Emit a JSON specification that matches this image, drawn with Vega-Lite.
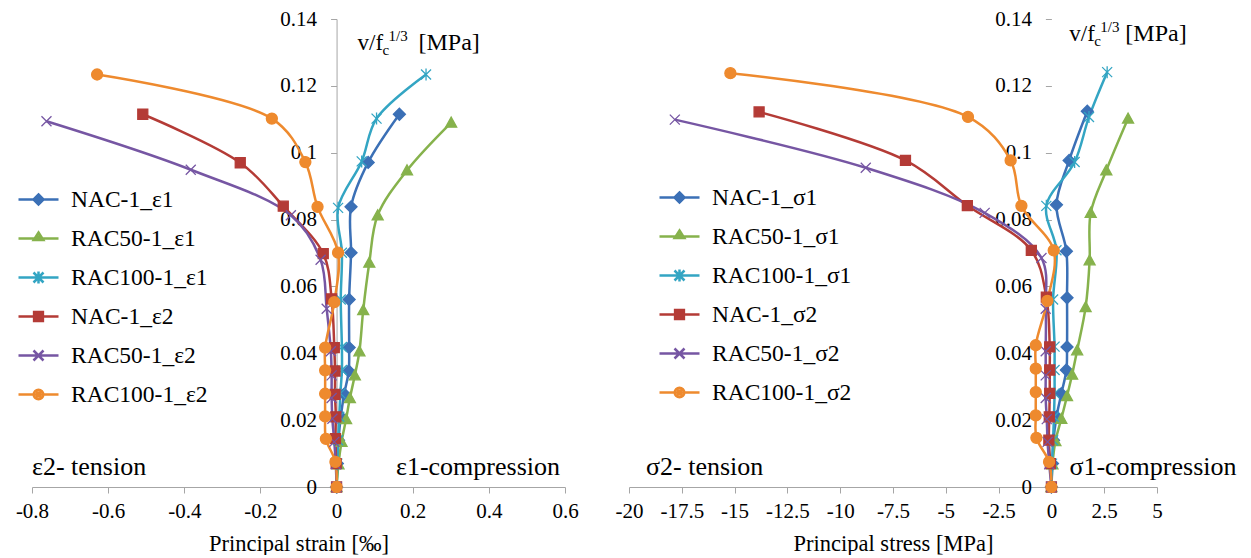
{
  "$schema": "https://vega.github.io/schema/vega-lite/v6.json",
  "background": "white",
  "padding": {"left": 15, "top": 8, "right": 5, "bottom": 0},
  "config": {
    "font": "Liberation Serif",
    "view": {"stroke": null},
    "axis": {
      "labelFont": "Liberation Serif", "titleFont": "Liberation Serif",
      "labelColor": "#000", "titleColor": "#000",
      "labelFontSize": 21, "titleFontSize": 22.5, "titleFontWeight": "normal",
      "domainColor": "#a6a6a6", "tickColor": "#a6a6a6", "grid": false,
      "tickSize": 6
    },
    "legend": {"labelFont": "Liberation Serif", "labelFontSize": 23.5, "labelColor": "#000"}
  },
  "datasets": {
    "strain": [
      {"s": "NAC-1_ε1", "i": 0, "x": 0, "y": 0},
      {"s": "NAC-1_ε1", "i": 1, "x": 0.002, "y": 0.007},
      {"s": "NAC-1_ε1", "i": 2, "x": 0.005, "y": 0.014},
      {"s": "NAC-1_ε1", "i": 3, "x": 0.011, "y": 0.021},
      {"s": "NAC-1_ε1", "i": 4, "x": 0.02, "y": 0.0278},
      {"s": "NAC-1_ε1", "i": 5, "x": 0.032, "y": 0.0347},
      {"s": "NAC-1_ε1", "i": 6, "x": 0.033, "y": 0.0417},
      {"s": "NAC-1_ε1", "i": 7, "x": 0.033, "y": 0.0561},
      {"s": "NAC-1_ε1", "i": 8, "x": 0.038, "y": 0.0701},
      {"s": "NAC-1_ε1", "i": 9, "x": 0.038, "y": 0.0838},
      {"s": "NAC-1_ε1", "i": 10, "x": 0.083, "y": 0.0971},
      {"s": "NAC-1_ε1", "i": 11, "x": 0.165, "y": 0.1115},
      {"s": "RAC50-1_ε1", "i": 0, "x": 0, "y": 0},
      {"s": "RAC50-1_ε1", "i": 1, "x": 0.005, "y": 0.0068},
      {"s": "RAC50-1_ε1", "i": 2, "x": 0.013, "y": 0.0135},
      {"s": "RAC50-1_ε1", "i": 3, "x": 0.025, "y": 0.0203},
      {"s": "RAC50-1_ε1", "i": 4, "x": 0.035, "y": 0.0266},
      {"s": "RAC50-1_ε1", "i": 5, "x": 0.048, "y": 0.0334},
      {"s": "RAC50-1_ε1", "i": 6, "x": 0.06, "y": 0.0406},
      {"s": "RAC50-1_ε1", "i": 7, "x": 0.07, "y": 0.0529},
      {"s": "RAC50-1_ε1", "i": 8, "x": 0.086, "y": 0.0671},
      {"s": "RAC50-1_ε1", "i": 9, "x": 0.108, "y": 0.0813},
      {"s": "RAC50-1_ε1", "i": 10, "x": 0.185, "y": 0.0947},
      {"s": "RAC50-1_ε1", "i": 11, "x": 0.301, "y": 0.109},
      {"s": "RAC100-1_ε1", "i": 0, "x": 0, "y": 0},
      {"s": "RAC100-1_ε1", "i": 1, "x": 0.002, "y": 0.007},
      {"s": "RAC100-1_ε1", "i": 2, "x": 0.004, "y": 0.014},
      {"s": "RAC100-1_ε1", "i": 3, "x": 0.007, "y": 0.021},
      {"s": "RAC100-1_ε1", "i": 4, "x": 0.01, "y": 0.028},
      {"s": "RAC100-1_ε1", "i": 5, "x": 0.014, "y": 0.035},
      {"s": "RAC100-1_ε1", "i": 6, "x": 0.014, "y": 0.0419},
      {"s": "RAC100-1_ε1", "i": 7, "x": 0.011, "y": 0.0561},
      {"s": "RAC100-1_ε1", "i": 8, "x": 0.014, "y": 0.0701},
      {"s": "RAC100-1_ε1", "i": 9, "x": 0.004, "y": 0.0835},
      {"s": "RAC100-1_ε1", "i": 10, "x": 0.066, "y": 0.0974},
      {"s": "RAC100-1_ε1", "i": 11, "x": 0.105, "y": 0.1102},
      {"s": "RAC100-1_ε1", "i": 12, "x": 0.235, "y": 0.1234},
      {"s": "NAC-1_ε2", "i": 0, "x": 0, "y": 0},
      {"s": "NAC-1_ε2", "i": 1, "x": -0.001, "y": 0.007},
      {"s": "NAC-1_ε2", "i": 2, "x": -0.003, "y": 0.0145},
      {"s": "NAC-1_ε2", "i": 3, "x": -0.002, "y": 0.021},
      {"s": "NAC-1_ε2", "i": 4, "x": -0.004, "y": 0.0277},
      {"s": "NAC-1_ε2", "i": 5, "x": -0.004, "y": 0.0347},
      {"s": "NAC-1_ε2", "i": 6, "x": -0.006, "y": 0.0417},
      {"s": "NAC-1_ε2", "i": 7, "x": -0.013, "y": 0.0563},
      {"s": "NAC-1_ε2", "i": 8, "x": -0.035, "y": 0.0698},
      {"s": "NAC-1_ε2", "i": 9, "x": -0.14, "y": 0.084},
      {"s": "NAC-1_ε2", "i": 10, "x": -0.253, "y": 0.097},
      {"s": "NAC-1_ε2", "i": 11, "x": -0.509, "y": 0.1115},
      {"s": "RAC50-1_ε2", "i": 0, "x": 0, "y": 0},
      {"s": "RAC50-1_ε2", "i": 1, "x": -0.002, "y": 0.0068},
      {"s": "RAC50-1_ε2", "i": 2, "x": -0.006, "y": 0.0135},
      {"s": "RAC50-1_ε2", "i": 3, "x": -0.011, "y": 0.0204},
      {"s": "RAC50-1_ε2", "i": 4, "x": -0.013, "y": 0.0266},
      {"s": "RAC50-1_ε2", "i": 5, "x": -0.013, "y": 0.0334},
      {"s": "RAC50-1_ε2", "i": 6, "x": -0.015, "y": 0.0406},
      {"s": "RAC50-1_ε2", "i": 7, "x": -0.026, "y": 0.0533},
      {"s": "RAC50-1_ε2", "i": 8, "x": -0.042, "y": 0.068},
      {"s": "RAC50-1_ε2", "i": 9, "x": -0.12, "y": 0.0813},
      {"s": "RAC50-1_ε2", "i": 10, "x": -0.383, "y": 0.0949},
      {"s": "RAC50-1_ε2", "i": 11, "x": -0.762, "y": 0.1094},
      {"s": "RAC100-1_ε2", "i": 0, "x": 0, "y": 0},
      {"s": "RAC100-1_ε2", "i": 1, "x": -0.003, "y": 0.0075},
      {"s": "RAC100-1_ε2", "i": 2, "x": -0.028, "y": 0.0144},
      {"s": "RAC100-1_ε2", "i": 3, "x": -0.03, "y": 0.0211},
      {"s": "RAC100-1_ε2", "i": 4, "x": -0.03, "y": 0.0279},
      {"s": "RAC100-1_ε2", "i": 5, "x": -0.03, "y": 0.0349},
      {"s": "RAC100-1_ε2", "i": 6, "x": -0.03, "y": 0.0417},
      {"s": "RAC100-1_ε2", "i": 7, "x": -0.006, "y": 0.0553},
      {"s": "RAC100-1_ε2", "i": 8, "x": 0.004, "y": 0.0701},
      {"s": "RAC100-1_ε2", "i": 9, "x": -0.05, "y": 0.0838},
      {"s": "RAC100-1_ε2", "i": 10, "x": -0.082, "y": 0.0972},
      {"s": "RAC100-1_ε2", "i": 11, "x": -0.17, "y": 0.1102},
      {"s": "RAC100-1_ε2", "i": 12, "x": -0.629, "y": 0.1234}
    ],
    "stress": [
      {"s": "NAC-1_σ1", "i": 0, "x": 0, "y": 0},
      {"s": "NAC-1_σ1", "i": 1, "x": 0.05, "y": 0.007},
      {"s": "NAC-1_σ1", "i": 2, "x": 0.1, "y": 0.014},
      {"s": "NAC-1_σ1", "i": 3, "x": 0.24, "y": 0.021},
      {"s": "NAC-1_σ1", "i": 4, "x": 0.47, "y": 0.0279},
      {"s": "NAC-1_σ1", "i": 5, "x": 0.71, "y": 0.035},
      {"s": "NAC-1_σ1", "i": 6, "x": 0.74, "y": 0.0419},
      {"s": "NAC-1_σ1", "i": 7, "x": 0.74, "y": 0.0566},
      {"s": "NAC-1_σ1", "i": 8, "x": 0.71, "y": 0.0705},
      {"s": "NAC-1_σ1", "i": 9, "x": 0.24, "y": 0.0844},
      {"s": "NAC-1_σ1", "i": 10, "x": 0.84, "y": 0.0977},
      {"s": "NAC-1_σ1", "i": 11, "x": 1.7, "y": 0.1124},
      {"s": "RAC50-1_σ1", "i": 0, "x": 0, "y": 0},
      {"s": "RAC50-1_σ1", "i": 1, "x": 0.05, "y": 0.0068},
      {"s": "RAC50-1_σ1", "i": 2, "x": 0.19, "y": 0.0137},
      {"s": "RAC50-1_σ1", "i": 3, "x": 0.47, "y": 0.0204},
      {"s": "RAC50-1_σ1", "i": 4, "x": 0.74, "y": 0.0272},
      {"s": "RAC50-1_σ1", "i": 5, "x": 0.98, "y": 0.0336},
      {"s": "RAC50-1_σ1", "i": 6, "x": 1.22, "y": 0.0409},
      {"s": "RAC50-1_σ1", "i": 7, "x": 1.62, "y": 0.0538},
      {"s": "RAC50-1_σ1", "i": 8, "x": 1.81, "y": 0.0678},
      {"s": "RAC50-1_σ1", "i": 9, "x": 1.86, "y": 0.082},
      {"s": "RAC50-1_σ1", "i": 10, "x": 2.6, "y": 0.0947},
      {"s": "RAC50-1_σ1", "i": 11, "x": 3.63, "y": 0.1102},
      {"s": "RAC100-1_σ1", "i": 0, "x": 0, "y": 0},
      {"s": "RAC100-1_σ1", "i": 1, "x": 0.03, "y": 0.007},
      {"s": "RAC100-1_σ1", "i": 2, "x": 0.08, "y": 0.014},
      {"s": "RAC100-1_σ1", "i": 3, "x": 0.12, "y": 0.021},
      {"s": "RAC100-1_σ1", "i": 4, "x": 0.15, "y": 0.028},
      {"s": "RAC100-1_σ1", "i": 5, "x": 0.15, "y": 0.035},
      {"s": "RAC100-1_σ1", "i": 6, "x": 0.15, "y": 0.042},
      {"s": "RAC100-1_σ1", "i": 7, "x": 0.08, "y": 0.0561},
      {"s": "RAC100-1_σ1", "i": 8, "x": 0.24, "y": 0.0708},
      {"s": "RAC100-1_σ1", "i": 9, "x": -0.24, "y": 0.0841},
      {"s": "RAC100-1_σ1", "i": 10, "x": 1.1, "y": 0.0972},
      {"s": "RAC100-1_σ1", "i": 11, "x": 1.78, "y": 0.1107},
      {"s": "RAC100-1_σ1", "i": 12, "x": 2.64, "y": 0.1241},
      {"s": "NAC-1_σ2", "i": 0, "x": 0, "y": 0},
      {"s": "NAC-1_σ2", "i": 1, "x": -0.05, "y": 0.007},
      {"s": "NAC-1_σ2", "i": 2, "x": -0.12, "y": 0.014},
      {"s": "NAC-1_σ2", "i": 3, "x": -0.1, "y": 0.021},
      {"s": "NAC-1_σ2", "i": 4, "x": -0.08, "y": 0.028},
      {"s": "NAC-1_σ2", "i": 5, "x": -0.08, "y": 0.035},
      {"s": "NAC-1_σ2", "i": 6, "x": -0.08, "y": 0.0419},
      {"s": "NAC-1_σ2", "i": 7, "x": -0.24, "y": 0.0568},
      {"s": "NAC-1_σ2", "i": 8, "x": -0.95, "y": 0.0708},
      {"s": "NAC-1_σ2", "i": 9, "x": -3.98, "y": 0.0842},
      {"s": "NAC-1_σ2", "i": 10, "x": -6.91, "y": 0.0977},
      {"s": "NAC-1_σ2", "i": 11, "x": -13.84, "y": 0.1122},
      {"s": "RAC50-1_σ2", "i": 0, "x": 0, "y": 0},
      {"s": "RAC50-1_σ2", "i": 1, "x": -0.1, "y": 0.0068},
      {"s": "RAC50-1_σ2", "i": 2, "x": -0.18, "y": 0.0135},
      {"s": "RAC50-1_σ2", "i": 3, "x": -0.22, "y": 0.0203},
      {"s": "RAC50-1_σ2", "i": 4, "x": -0.27, "y": 0.0266},
      {"s": "RAC50-1_σ2", "i": 5, "x": -0.27, "y": 0.0334},
      {"s": "RAC50-1_σ2", "i": 6, "x": -0.27, "y": 0.0406},
      {"s": "RAC50-1_σ2", "i": 7, "x": -0.27, "y": 0.0533},
      {"s": "RAC50-1_σ2", "i": 8, "x": -0.47, "y": 0.0685},
      {"s": "RAC50-1_σ2", "i": 9, "x": -3.16, "y": 0.082},
      {"s": "RAC50-1_σ2", "i": 10, "x": -8.79, "y": 0.0955},
      {"s": "RAC50-1_σ2", "i": 11, "x": -17.83, "y": 0.1099},
      {"s": "RAC100-1_σ2", "i": 0, "x": 0, "y": 0},
      {"s": "RAC100-1_σ2", "i": 1, "x": -0.11, "y": 0.0075},
      {"s": "RAC100-1_σ2", "i": 2, "x": -0.71, "y": 0.0147},
      {"s": "RAC100-1_σ2", "i": 3, "x": -0.74, "y": 0.0214},
      {"s": "RAC100-1_σ2", "i": 4, "x": -0.74, "y": 0.0284},
      {"s": "RAC100-1_σ2", "i": 5, "x": -0.74, "y": 0.0354},
      {"s": "RAC100-1_σ2", "i": 6, "x": -0.74, "y": 0.0424},
      {"s": "RAC100-1_σ2", "i": 7, "x": -0.19, "y": 0.0557},
      {"s": "RAC100-1_σ2", "i": 8, "x": 0.11, "y": 0.0708},
      {"s": "RAC100-1_σ2", "i": 9, "x": -1.42, "y": 0.0841},
      {"s": "RAC100-1_σ2", "i": 10, "x": -1.93, "y": 0.0977},
      {"s": "RAC100-1_σ2", "i": 11, "x": -3.95, "y": 0.1107},
      {"s": "RAC100-1_σ2", "i": 12, "x": -15.2, "y": 0.1238}
    ]
  },
  "spacing": 36,
  "resolve": {"scale": {"color": "independent", "shape": "independent", "stroke": "independent"}, "legend": {"color": "independent"}},
  "hconcat": [
    {
      "width": 533, "height": 468,
      "data": {"name": "strain"},
      "encoding": {
        "x": {"field": "x", "type": "quantitative", "scale": {"domain": [-0.8, 0.6], "nice": false, "zero": false},
          "axis": {"title": "Principal strain [‰]", "values": [-0.8, -0.6, -0.4, -0.2, 0, 0.2, 0.4, 0.6], "labelExpr": "datum.value == 0 ? '0' : (datum.value < 0 ? '-' : '') + format(abs(datum.value), '~g')", "labelPadding": 7, "titlePadding": 11, "labelFlush": false}},
        "y": {"field": "y", "type": "quantitative", "scale": {"domain": [0, 0.14], "nice": false},
          "axis": {"title": null, "values": [0, 0.02, 0.04, 0.06, 0.08, 0.1, 0.12, 0.14], "format": "~g", "offset": -304.57, "labelPadding": 14, "labelFlush": false}}
      },
      "layer": [
        {
          "mark": {"type": "line", "interpolate": "catmull-rom", "strokeWidth": 2.5},
          "encoding": {
            "stroke": {"field": "s", "type": "nominal", "legend": null,
              "scale": {"domain": ["RAC100-1_ε2", "RAC50-1_ε2", "NAC-1_ε2", "RAC100-1_ε1", "RAC50-1_ε1", "NAC-1_ε1"], "range": ["#EE8A2E", "#7656A3", "#B43B36", "#33A5C3", "#86B24C", "#3B70B6"]}},
            "order": {"field": "i", "type": "quantitative"}
          }
        },
        {"transform": [{"filter": "datum.s == 'NAC-1_ε1'"}], "mark": {"type": "point", "filled": true, "opacity": 1, "size": 100, "strokeWidth": 1.3, "shape": "M0,-1.2L1.2,0L0,1.2L-1.2,0Z", "fill": "#3B70B6", "stroke": "#3B70B6"}},
        {"transform": [{"filter": "datum.s == 'RAC50-1_ε1'"}], "mark": {"type": "point", "filled": true, "opacity": 1, "size": 100, "strokeWidth": 1.3, "shape": "M0,-1.1L1.1,0.9L-1.1,0.9Z", "fill": "#86B24C", "stroke": "#86B24C"}},
        {"transform": [{"filter": "datum.s == 'RAC100-1_ε1'"}], "mark": {"type": "point", "filled": true, "opacity": 1, "size": 100, "strokeWidth": 1.3, "shape": "M-1,-1L1,1M-1,1L1,-1M0,-1.2V1.2", "fill": "#33A5C3", "stroke": "#33A5C3"}},
        {"transform": [{"filter": "datum.s == 'NAC-1_ε2'"}], "mark": {"type": "point", "filled": true, "opacity": 1, "size": 100, "strokeWidth": 1.3, "shape": "M-1,-1H1V1H-1Z", "fill": "#B43B36", "stroke": "#B43B36"}},
        {"transform": [{"filter": "datum.s == 'RAC50-1_ε2'"}], "mark": {"type": "point", "filled": true, "opacity": 1, "size": 100, "strokeWidth": 1.3, "shape": "M-1,-1L1,1M-1,1L1,-1", "fill": "#7656A3", "stroke": "#7656A3"}},
        {"transform": [{"filter": "datum.s == 'RAC100-1_ε2'"}], "mark": {"type": "point", "filled": true, "opacity": 1, "size": 100, "strokeWidth": 1.3, "shape": "M1.1,0A1.1,1.1 0 1,1 -1.1,0A1.1,1.1 0 1,1 1.1,0Z", "fill": "#EE8A2E", "stroke": "#EE8A2E"}},
        {
          "mark": {"type": "point", "filled": false, "size": 0, "strokeWidth": 2.5},
          "encoding": {
            "color": {"field": "s", "type": "nominal",
              "scale": {"domain": ["NAC-1_ε1", "RAC50-1_ε1", "RAC100-1_ε1", "NAC-1_ε2", "RAC50-1_ε2", "RAC100-1_ε2"], "range": ["#3B70B6", "#86B24C", "#33A5C3", "#B43B36", "#7656A3", "#EE8A2E"]},
              "legend": {"title": null, "orient": "none", "legendX": -15, "legendY": 159, "rowPadding": 6, "labelOffset": 11, "symbolSize": 1600, "symbolStrokeWidth": 2.5, "symbolOpacity": 1}},
            "shape": {"field": "s", "type": "nominal", "legend": null,
              "scale": {"domain": ["NAC-1_ε1", "RAC50-1_ε1", "RAC100-1_ε1", "NAC-1_ε2", "RAC50-1_ε2", "RAC100-1_ε2"],
                "range": ["M-1,0H1M0,-0.25L0.25,0L0,0.25L-0.25,0ZM-0.17,0H0.17M-0.1,-0.08H0.1M-0.1,0.08H0.1", "M-1,0H1M0,-0.3L0.24,0.08L-0.24,0.08ZM-0.14,0H0.14M-0.08,-0.1H0.08", "M-1,0H1M-0.25,-0.25L0.25,0.25M-0.25,0.25L0.25,-0.25M0,-0.3V0.3", "M-1,0H1M-0.22,-0.22H0.22V0.22H-0.22ZM-0.22,-0.1H0.22M-0.22,0.1H0.22", "M-1,0H1M-0.25,-0.25L0.25,0.25M-0.25,0.25L0.25,-0.25", "M-1,0H1M0.24,0A0.24,0.24 0 1,1 -0.24,0A0.24,0.24 0 1,1 0.24,0ZM-0.15,-0.1H0.15M-0.15,0.1H0.15M0,-0.15V0.15"]}}
          }
        },
        {"transform": [{"filter": "datum.i == 0 && datum.s == 'NAC-1_ε1'"}], "mark": {"type": "text", "fontSize": 26, "align": "left", "baseline": "middle", "text": "ε2- tension"},
         "encoding": {"x": {"datum": -0.8}, "y": {"datum": 0.006}}},
        {"transform": [{"filter": "datum.i == 0 && datum.s == 'NAC-1_ε1'"}], "mark": {"type": "text", "fontSize": 26, "align": "right", "baseline": "middle", "text": "ε1-compression", "dx": -5},
         "encoding": {"x": {"datum": 0.6}, "y": {"datum": 0.006}}},
        {"transform": [{"filter": "datum.i == 0 && datum.s == 'NAC-1_ε1'"}], "mark": {"type": "text", "fontSize": 23, "align": "left", "baseline": "alphabetic", "text": "v/f"},
         "encoding": {"x": {"datum": 0.055}, "y": {"datum": 0.1307}}},
        {"transform": [{"filter": "datum.i == 0 && datum.s == 'NAC-1_ε1'"}], "mark": {"type": "text", "fontSize": 15, "align": "left", "baseline": "alphabetic", "text": "c", "dx": 25, "dy": 5},
         "encoding": {"x": {"datum": 0.055}, "y": {"datum": 0.1307}}},
        {"transform": [{"filter": "datum.i == 0 && datum.s == 'NAC-1_ε1'"}], "mark": {"type": "text", "fontSize": 15, "align": "left", "baseline": "alphabetic", "text": "1/3", "dx": 31, "dy": -9},
         "encoding": {"x": {"datum": 0.055}, "y": {"datum": 0.1307}}},
        {"transform": [{"filter": "datum.i == 0 && datum.s == 'NAC-1_ε1'"}], "mark": {"type": "text", "fontSize": 24, "align": "left", "baseline": "alphabetic", "text": "[MPa]", "dx": 61},
         "encoding": {"x": {"datum": 0.055}, "y": {"datum": 0.1307}}}
      ]
    },
    {
      "width": 528, "height": 468,
      "data": {"name": "stress"},
      "encoding": {
        "x": {"field": "x", "type": "quantitative", "scale": {"domain": [-20, 5], "nice": false, "zero": false},
          "axis": {"title": "Principal stress [MPa]", "values": [-20, -17.5, -15, -12.5, -10, -7.5, -5, -2.5, 0, 2.5, 5], "labelExpr": "datum.value == 0 ? '0' : (datum.value < 0 ? '-' : '') + format(abs(datum.value), '~g')", "labelPadding": 7, "titlePadding": 11, "labelFlush": false}},
        "y": {"field": "y", "type": "quantitative", "scale": {"domain": [0, 0.14], "nice": false},
          "axis": {"title": null, "values": [0, 0.02, 0.04, 0.06, 0.08, 0.1, 0.12, 0.14], "format": "~g", "offset": -422.4, "labelPadding": 14, "labelFlush": false, "domain": false}}
      },
      "layer": [
        {
          "mark": {"type": "line", "interpolate": "catmull-rom", "strokeWidth": 2.5},
          "encoding": {
            "stroke": {"field": "s", "type": "nominal", "legend": null,
              "scale": {"domain": ["RAC100-1_σ2", "RAC50-1_σ2", "NAC-1_σ2", "RAC100-1_σ1", "RAC50-1_σ1", "NAC-1_σ1"], "range": ["#EE8A2E", "#7656A3", "#B43B36", "#33A5C3", "#86B24C", "#3B70B6"]}},
            "order": {"field": "i", "type": "quantitative"}
          }
        },
        {"transform": [{"filter": "datum.s == 'NAC-1_σ1'"}], "mark": {"type": "point", "filled": true, "opacity": 1, "size": 100, "strokeWidth": 1.3, "shape": "M0,-1.2L1.2,0L0,1.2L-1.2,0Z", "fill": "#3B70B6", "stroke": "#3B70B6"}},
        {"transform": [{"filter": "datum.s == 'RAC50-1_σ1'"}], "mark": {"type": "point", "filled": true, "opacity": 1, "size": 100, "strokeWidth": 1.3, "shape": "M0,-1.1L1.1,0.9L-1.1,0.9Z", "fill": "#86B24C", "stroke": "#86B24C"}},
        {"transform": [{"filter": "datum.s == 'RAC100-1_σ1'"}], "mark": {"type": "point", "filled": true, "opacity": 1, "size": 100, "strokeWidth": 1.3, "shape": "M-1,-1L1,1M-1,1L1,-1M0,-1.2V1.2", "fill": "#33A5C3", "stroke": "#33A5C3"}},
        {"transform": [{"filter": "datum.s == 'NAC-1_σ2'"}], "mark": {"type": "point", "filled": true, "opacity": 1, "size": 100, "strokeWidth": 1.3, "shape": "M-1,-1H1V1H-1Z", "fill": "#B43B36", "stroke": "#B43B36"}},
        {"transform": [{"filter": "datum.s == 'RAC50-1_σ2'"}], "mark": {"type": "point", "filled": true, "opacity": 1, "size": 100, "strokeWidth": 1.3, "shape": "M-1,-1L1,1M-1,1L1,-1", "fill": "#7656A3", "stroke": "#7656A3"}},
        {"transform": [{"filter": "datum.s == 'RAC100-1_σ2'"}], "mark": {"type": "point", "filled": true, "opacity": 1, "size": 100, "strokeWidth": 1.3, "shape": "M1.1,0A1.1,1.1 0 1,1 -1.1,0A1.1,1.1 0 1,1 1.1,0Z", "fill": "#EE8A2E", "stroke": "#EE8A2E"}},
        {
          "mark": {"type": "point", "filled": false, "size": 0, "strokeWidth": 2.5},
          "encoding": {
            "color": {"field": "s", "type": "nominal",
              "scale": {"domain": ["NAC-1_σ1", "RAC50-1_σ1", "RAC100-1_σ1", "NAC-1_σ2", "RAC50-1_σ2", "RAC100-1_σ2"], "range": ["#3B70B6", "#86B24C", "#33A5C3", "#B43B36", "#7656A3", "#EE8A2E"]},
              "legend": {"title": null, "orient": "none", "legendX": 29, "legendY": 157, "rowPadding": 6, "labelOffset": 11, "symbolSize": 1600, "symbolStrokeWidth": 2.5, "symbolOpacity": 1}},
            "shape": {"field": "s", "type": "nominal", "legend": null,
              "scale": {"domain": ["NAC-1_σ1", "RAC50-1_σ1", "RAC100-1_σ1", "NAC-1_σ2", "RAC50-1_σ2", "RAC100-1_σ2"],
                "range": ["M-1,0H1M0,-0.25L0.25,0L0,0.25L-0.25,0ZM-0.17,0H0.17M-0.1,-0.08H0.1M-0.1,0.08H0.1", "M-1,0H1M0,-0.3L0.24,0.08L-0.24,0.08ZM-0.14,0H0.14M-0.08,-0.1H0.08", "M-1,0H1M-0.25,-0.25L0.25,0.25M-0.25,0.25L0.25,-0.25M0,-0.3V0.3", "M-1,0H1M-0.22,-0.22H0.22V0.22H-0.22ZM-0.22,-0.1H0.22M-0.22,0.1H0.22", "M-1,0H1M-0.25,-0.25L0.25,0.25M-0.25,0.25L0.25,-0.25", "M-1,0H1M0.24,0A0.24,0.24 0 1,1 -0.24,0A0.24,0.24 0 1,1 0.24,0ZM-0.15,-0.1H0.15M-0.15,0.1H0.15M0,-0.15V0.15"]}}
          }
        },
        {"transform": [{"filter": "datum.i == 0 && datum.s == 'NAC-1_σ1'"}], "mark": {"type": "text", "fontSize": 26, "align": "left", "baseline": "middle", "text": "σ2- tension", "dx": 17},
         "encoding": {"x": {"datum": -20}, "y": {"datum": 0.006}}},
        {"transform": [{"filter": "datum.i == 0 && datum.s == 'NAC-1_σ1'"}], "mark": {"type": "text", "fontSize": 26, "align": "left", "baseline": "middle", "text": "σ1-compression", "dx": 18},
         "encoding": {"x": {"datum": 0}, "y": {"datum": 0.006}}},
        {"transform": [{"filter": "datum.i == 0 && datum.s == 'NAC-1_σ1'"}], "mark": {"type": "text", "fontSize": 23, "align": "left", "baseline": "alphabetic", "text": "v/f"},
         "encoding": {"x": {"datum": 0.85}, "y": {"datum": 0.1334}}},
        {"transform": [{"filter": "datum.i == 0 && datum.s == 'NAC-1_σ1'"}], "mark": {"type": "text", "fontSize": 15, "align": "left", "baseline": "alphabetic", "text": "c", "dx": 25, "dy": 5},
         "encoding": {"x": {"datum": 0.85}, "y": {"datum": 0.1334}}},
        {"transform": [{"filter": "datum.i == 0 && datum.s == 'NAC-1_σ1'"}], "mark": {"type": "text", "fontSize": 15, "align": "left", "baseline": "alphabetic", "text": "1/3", "dx": 31, "dy": -9},
         "encoding": {"x": {"datum": 0.85}, "y": {"datum": 0.1334}}},
        {"transform": [{"filter": "datum.i == 0 && datum.s == 'NAC-1_σ1'"}], "mark": {"type": "text", "fontSize": 24, "align": "left", "baseline": "alphabetic", "text": "[MPa]", "dx": 56},
         "encoding": {"x": {"datum": 0.85}, "y": {"datum": 0.1334}}}
      ]
    }
  ]
}
